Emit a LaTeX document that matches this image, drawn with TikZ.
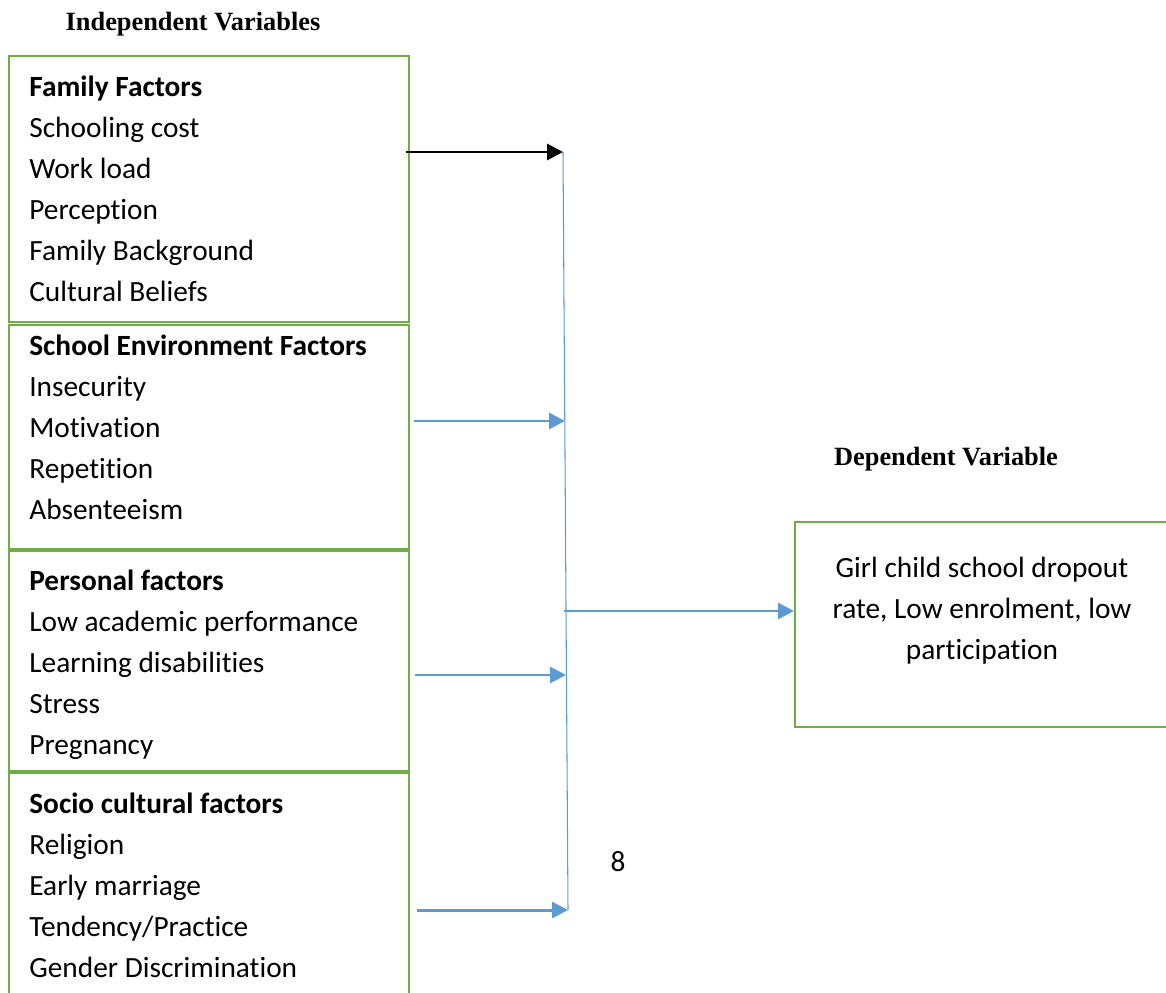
\documentclass[tikz,border=0pt]{standalone}
\usepackage{fontspec}
\setmainfont[RawFeature=-liga]{Carlito}
\newfontfamily\titlefont{Liberation Serif}
\usepackage{tikz}
\usetikzlibrary{positioning, arrows.meta, calc}
\definecolor{boxGreen}{HTML}{70AD47}
\definecolor{arrBlue}{HTML}{5B9BD5}

\begin{document}
\begin{tikzpicture}[x=0.02cm, y=-0.02cm,
  box/.style={draw=boxGreen, line width=1.1pt, anchor=north west,
              inner sep=0pt, minimum width=8cm},
  items/.style={anchor=north west, align=left, inner sep=0pt,
                font=\fontsize{16.7}{23.25}\selectfont},
  title/.style={font=\titlefont\bfseries\fontsize{15}{18}\selectfont},
  arr/.style={-{Triangle[length=0.32cm, width=0.32cm]}, line width=1.7pt, arrBlue},
  blackarr/.style={arr, black},
  bus/.style={arrBlue, line width=0.6pt}
]
\useasboundingbox (0,0) rectangle (1166,993);

\node[title] (indep) at (193,24) {Independent Variables};
\node[title] (dep) at (946,459) {Dependent Variable};

\node[box, minimum height=5.32cm] (fam) at (8,55) {};
\node[box, minimum height=4.48cm] (env) at (8,324) {};
\node[box, minimum height=4.4cm] (pers) at (8,550) {};
\node[box, minimum height=4.5cm] (socio) at (8,772) {};
\node[box, minimum width=7.52cm, minimum height=4.1cm] (dv) at (794,521) {};

\node[items] (famtext) at (29,76) {\textbf{Family Factors}\\Schooling cost\\Work load\\Perception\\Family Background\\Cultural Beliefs};
\node[items] (envtext) at (29,335) {\textbf{School Environment Factors}\\Insecurity\\Motivation\\Repetition\\Absenteeism};
\node[items] (perstext) at (29,570) {\textbf{Personal factors}\\Low academic performance\\Learning disabilities\\Stress\\Pregnancy};
\node[items] (sociotext) at (29,793) {\textbf{Socio cultural factors}\\Religion\\Early marriage\\Tendency/Practice\\Gender Discrimination};
\node[items, anchor=center, align=center] (dvtext) at (982,611) {Girl child school dropout\\rate, Low enrolment, low\\participation};
\node[items, anchor=center] (pagenum) at (618,862) {8};

\coordinate (busTop) at (563,152);
\coordinate (busBot) at (568,910);
\coordinate (busEnv) at (565,421);
\coordinate (busPers) at (566,675);
\coordinate (busOut) at (564,611);

\draw[bus] (busTop) -- (busBot);
\draw[blackarr] ($(fam.east |- busTop)+(-4,0)$) -- (busTop);
\draw[arr] ($(env.east |- busEnv)+(4,0)$) -- (busEnv);
\draw[arr] ($(pers.east |- busPers)+(5,0)$) -- (busPers);
\draw[arr] ($(socio.east |- busBot)+(7,0)$) -- (busBot);
\draw[arr] (busOut) -- (dv.west |- busOut);
\end{tikzpicture}
\end{document}
